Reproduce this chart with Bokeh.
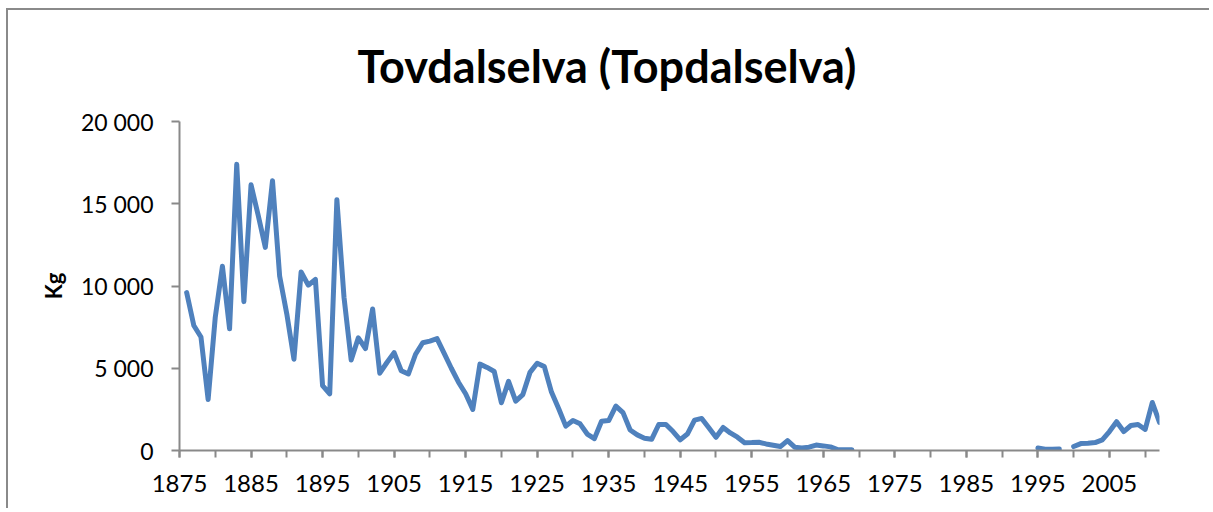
import math
from bokeh.plotting import figure
from bokeh.models import ColumnDataSource, FixedTicker, Range1d
from bokeh.embed import file_html
from bokeh.resources import INLINE

start_year = 1876
kg = [
    9600, 7600, 6900, 3100, 8100, 11200, 7400, 17400, 9050, 16150,      # 1876-1885
    14300, 12350, 16400, 10600, 8300, 5550, 10850, 10050, 10400, 3950,  # 1886-1895
    3450, 15250, 9300, 5500, 6850, 6200, 8600, 4700, 5350, 5950,        # 1896-1905
    4850, 4650, 5850, 6550, 6650, 6800, 5900, 5000, 4150, 3450,         # 1906-1915
    2500, 5250, 5050, 4800, 2900, 4200, 3000, 3400, 4750, 5300,         # 1916-1925
    5100, 3550, 2550, 1480, 1820, 1620, 1000, 720, 1780, 1820,          # 1926-1935
    2700, 2300, 1250, 950, 750, 680, 1580, 1580, 1150, 650,             # 1936-1945
    1000, 1850, 1950, 1380, 800, 1400, 1070, 810, 470, 480,             # 1946-1955
    500, 400, 320, 240, 600, 200, 150, 200, 330, 280,                   # 1956-1965
    220, 60, 50, 40, None, None, None, None, None, None,                # 1966-1975
    None, None, None, None, None, None, None, None, None, None,         # 1976-1985
    None, None, None, None, None, None, None, None, None, 150,          # 1986-1995
    80, 70, 90, None, 240, 420, 440, 480, 650, 1150,                    # 1996-2005
    1750, 1150, 1520, 1580, 1280, 2920, 1700,                           # 2006-2012
]
years = [start_year + i for i in range(len(kg))]
kg_vals = [float("nan") if v is None else v for v in kg]

y_ticks = [0, 5000, 10000, 15000, 20000]
y_labels = {0: "0", 5000: "5 000", 10000: "10 000", 15000: "15 000", 20000: "20 000"}
x_label_years = list(range(1875, 2012, 10))
x_minor_years = list(range(1875, 2013, 5))

title_text = "Tovdalselva (Topdalselva)"
y_axis_title = "Kg"

FONT = "Lato"
GRAY = "#898989"

p = figure(
    width=1203, height=500,
    output_backend="svg", toolbar_location=None,
    x_range=Range1d(1875, 2012), y_range=Range1d(0, 20000),
    min_border_left=171, min_border_right=52, min_border_top=111, min_border_bottom=60,
    title=title_text,
    styles={"border-left": "2px solid #8a8a8a", "border-top": "2px solid #8a8a8a",
            "margin-left": "6px", "margin-top": "8px"},
)
p.outline_line_color = None
p.grid.visible = False
p.background_fill_color = "white"
p.border_fill_color = "white"

p.title.text_font = FONT
p.title.text_font_style = "bold"
p.title.text_font_size = "45px"
p.title.text_color = "black"
p.title.align = "left"
p.title.offset = 178
p.title.vertical_align = "top"
p.title.standoff = 53

src = ColumnDataSource(dict(year=years, kg=kg_vals))
p.line("year", "kg", source=src, line_color="#4f81bd", line_width=5,
       line_join="round", line_cap="round")

# x axis
p.xaxis.ticker = FixedTicker(ticks=x_label_years, minor_ticks=x_minor_years)
p.xaxis.axis_line_color = GRAY
p.xaxis.axis_line_width = 2
p.xaxis.major_tick_line_color = GRAY
p.xaxis.major_tick_line_width = 2
p.xaxis.minor_tick_line_color = GRAY
p.xaxis.minor_tick_line_width = 2
p.xaxis.major_tick_in = 0
p.xaxis.major_tick_out = 7
p.xaxis.minor_tick_in = 0
p.xaxis.minor_tick_out = 7
p.xaxis.major_label_text_font = FONT
p.xaxis.major_label_text_font_size = "24px"
p.xaxis.major_label_text_color = "black"
p.xaxis.major_label_standoff = 17

# y axis
p.yaxis.ticker = FixedTicker(ticks=y_ticks, minor_ticks=[])
p.yaxis.major_label_overrides = y_labels
p.yaxis.axis_line_color = GRAY
p.yaxis.axis_line_width = 2
p.yaxis.major_tick_line_color = GRAY
p.yaxis.major_tick_line_width = 2
p.yaxis.major_tick_in = 0
p.yaxis.major_tick_out = 8
p.yaxis.minor_tick_line_color = None
p.yaxis.major_label_text_font = FONT
p.yaxis.major_label_text_font_size = "23px"
p.yaxis.major_label_text_color = "black"
p.yaxis.major_label_standoff = 18
p.yaxis.axis_label = y_axis_title
p.yaxis.axis_label_text_font = FONT
p.yaxis.axis_label_text_font_style = "bold"
p.yaxis.axis_label_text_font_size = "22px"
p.yaxis.axis_label_text_color = "black"
p.yaxis.axis_label_standoff = 11

open("out.html", "w").write(file_html(p, INLINE))
